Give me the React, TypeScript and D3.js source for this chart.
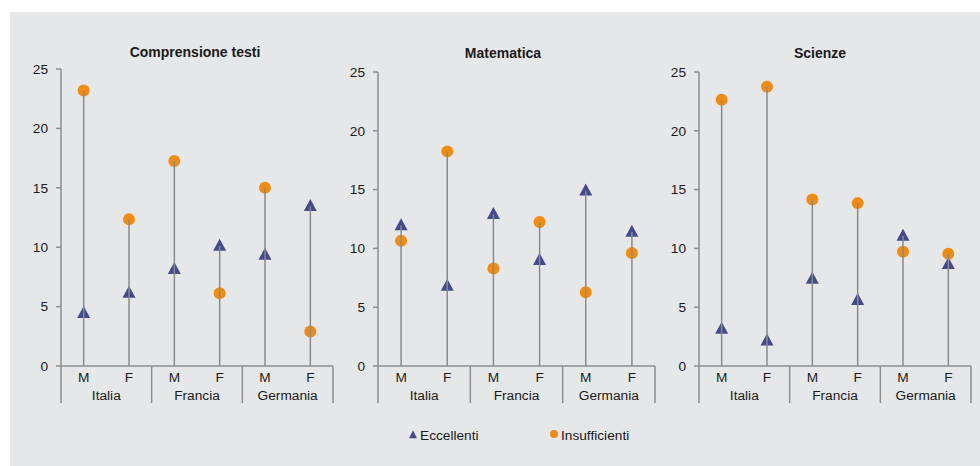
import React from "react";
import * as d3 from "d3";

const countries = ["Italia", "Francia", "Germania"];
const genders = ["M", "F"];
const subjects = ["Comprensione testi", "Matematica", "Scienze"];
const yTicks = [0, 5, 10, 15, 20, 25];

// order: Italia M, Italia F, Francia M, Francia F, Germania M, Germania F
const eccComprensione = [4.45, 6.15, 8.15, 10.1, 9.35, 13.45];
const insComprensione = [23.2, 12.35, 17.25, 6.12, 15.0, 2.9];
const eccMatematica = [11.95, 6.8, 12.9, 9.0, 14.9, 11.4];
const insMatematica = [10.65, 18.25, 8.3, 12.25, 6.28, 9.6];
const eccScienze = [3.15, 2.15, 7.4, 5.6, 11.05, 8.65];
const insScienze = [22.65, 23.75, 14.15, 13.85, 9.72, 9.55];

const eccellenti = [eccComprensione, eccMatematica, eccScienze];
const insufficienti = [insComprensione, insMatematica, insScienze];

const legendLabels = ["Eccellenti", "Insufficienti"];

const panels = [
  { x0: 61, x1: 333, yTop: 69, yBottom: 366, tx: 195, ty: 57 },
  { x0: 378, x1: 655, yTop: 72, yBottom: 366, tx: 503, ty: 58 },
  { x0: 699, x1: 971, yTop: 72, yBottom: 366, tx: 820, ty: 58 },
];

const ORANGE = "#ef8c13";
const NAVY = "#444a8c";
const AXIS = "#8e8e8e";
const STEM = "#8a8a8a";
const TEXT = "#1a1a1a";
const FONT = "Liberation Sans, Arial, sans-serif";
const FS = 13.7;

const cats = countries.flatMap((c) => genders.map((g) => `${c}|${g}`));

function triPath(cx: number, cy: number, w: number, h: number) {
  return `M${cx},${cy - h * 0.6}L${cx + w / 2},${cy + h * 0.4}L${cx - w / 2},${cy + h * 0.4}Z`;
}

function Panel({ idx }: { idx: number }) {
  const p = panels[idx];
  const y = d3.scaleLinear().domain([0, 25]).range([p.yBottom, p.yTop]);
  const x = d3.scaleBand().domain(cats).range([p.x0, p.x1]).padding(0);
  const xg = d3.scaleBand().domain(countries).range([p.x0, p.x1]).padding(0);
  const ecc = eccellenti[idx];
  const ins = insufficienti[idx];
  return (
    <g>
      <text x={p.tx} y={p.ty} textAnchor="middle" fontFamily={FONT} fontSize={14} fontWeight="bold" fill={TEXT}>
        {subjects[idx]}
      </text>
      {/* y axis */}
      <line x1={p.x0} x2={p.x0} y1={p.yTop} y2={p.yBottom + 37} stroke={AXIS} strokeWidth={1.5} />
      {yTicks.map((t) => (
        <g key={t}>
          <line x1={p.x0 - 5} x2={p.x0} y1={y(t)} y2={y(t)} stroke={AXIS} strokeWidth={1.5} />
          <text x={p.x0 - 13} y={y(t)} dy="0.35em" textAnchor="end" fontFamily={FONT} fontSize={FS} fill={TEXT}>
            {t}
          </text>
        </g>
      ))}
      {/* x axis */}
      <line x1={p.x0} x2={p.x1} y1={p.yBottom} y2={p.yBottom} stroke={AXIS} strokeWidth={1.5} />
      {countries.map((c) => (
        <g key={c}>
          <line x1={xg(c)! + xg.bandwidth()} x2={xg(c)! + xg.bandwidth()} y1={p.yBottom} y2={p.yBottom + 37} stroke={AXIS} strokeWidth={1.5} />
          <text x={xg(c)! + xg.bandwidth() / 2} y={p.yBottom + 34} textAnchor="middle" fontFamily={FONT} fontSize={FS} fill={TEXT}>
            {c}
          </text>
        </g>
      ))}
      {cats.map((k) => (
        <text key={k} x={x(k)! + x.bandwidth() / 2} y={p.yBottom + 15.5} textAnchor="middle" fontFamily={FONT} fontSize={FS} fill={TEXT}>
          {k.split("|")[1]}
        </text>
      ))}
      {/* markers */}
      {cats.map((k, i) => {
        const cx = x(k)! + x.bandwidth() / 2;
        return (
          <g key={k}>
            <path d={triPath(cx, y(ecc[i]), 13, 12)} fill={NAVY} />
            <circle cx={cx} cy={y(ins[i])} r={6} fill={ORANGE} />
          </g>
        );
      })}
      {/* stems */}
      {cats.map((k, i) => {
        const cx = x(k)! + x.bandwidth() / 2;
        return (
          <line key={k} x1={cx} x2={cx} y1={y(0)} y2={y(Math.max(ecc[i], ins[i]))} stroke={STEM} strokeWidth={1.5} />
        );
      })}
    </g>
  );
}

export default function App() {
  return (
    <svg width={980} height={466} style={{ position: "absolute", left: 0, top: 0 }}>
      <rect x={0} y={0} width={980} height={466} fill="#ffffff" />
      <rect x={10} y={12} width={970} height={454} fill="#e6e7e9" />
      {[0, 1, 2].map((i) => (
        <Panel key={i} idx={i} />
      ))}
      {/* legend */}
      <path d={triPath(413, 435, 8, 8)} fill={NAVY} />
      <text x={420} y={439.5} fontFamily={FONT} fontSize={FS} fill={TEXT}>
        {legendLabels[0]}
      </text>
      <circle cx={554} cy={434} r={4} fill={ORANGE} />
      <text x={561} y={439.5} fontFamily={FONT} fontSize={FS} fill={TEXT}>
        {legendLabels[1]}
      </text>
    </svg>
  );
}
